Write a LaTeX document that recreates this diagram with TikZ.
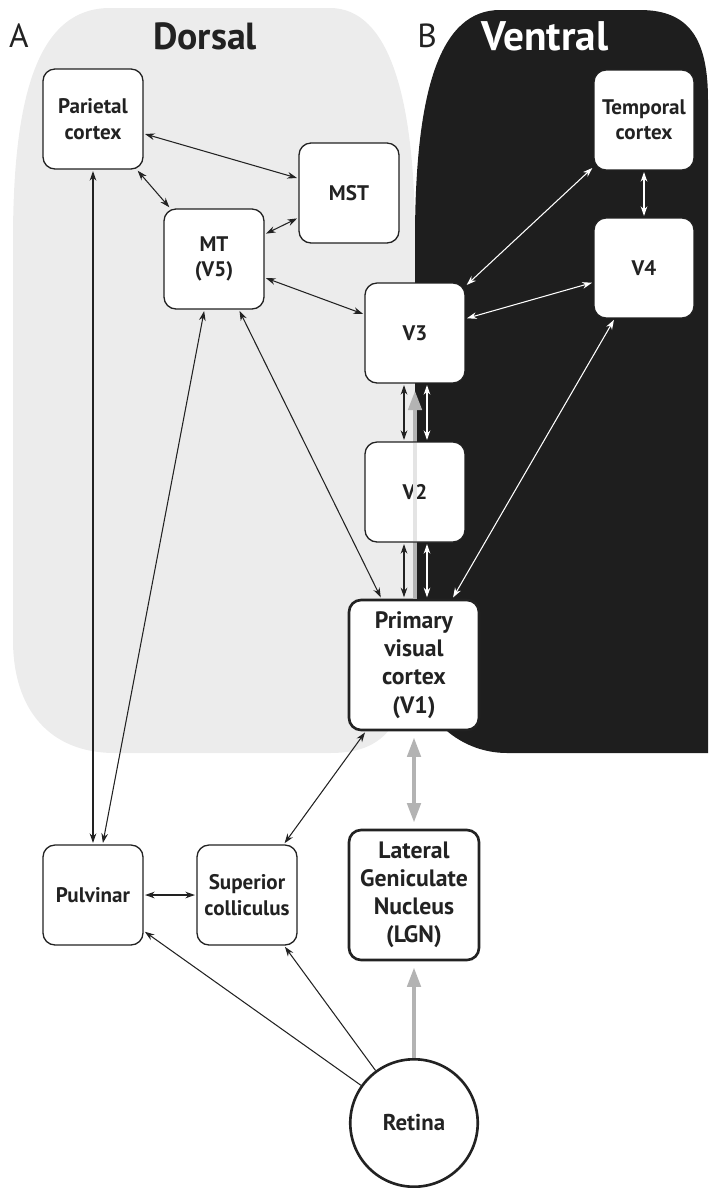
\documentclass[tikz,border=0pt]{standalone}
\usepackage{fontspec}
\setmainfont{PT Sans}
\usetikzlibrary{arrows.meta}
\definecolor{dorsalgray}{HTML}{ECECEC}
\definecolor{ventralblack}{HTML}{1E1E1E}
\definecolor{pathgray}{HTML}{B3B3B3}
\definecolor{inkgray}{HTML}{222222}

\begin{document}
\begin{tikzpicture}[
    x=0.02cm, y=-0.02cm,
    area/.style={rectangle, draw=inkgray, fill=white, rounded corners=0.24cm, text=inkgray, align=center, minimum width=2cm, minimum height=2cm, inner sep=1pt, line width=0.75pt, font=\fontsize{12}{14.5}\selectfont\bfseries},
    mainarea/.style={area, line width=1.5pt, minimum width=2.6cm, minimum height=2.6cm, font=\fontsize{13.5}{16}\selectfont\bfseries},
    eye/.style={circle, draw=inkgray, fill=white, line width=1.5pt, minimum size=2.55cm, text=inkgray, font=\fontsize{13}{15}\selectfont\bfseries},
    title/.style={font=\fontsize{21.5}{24}\selectfont\bfseries},
    panel/.style={font=\fontsize{19}{21}\selectfont, text=inkgray},
    link/.style={{Stealth[length=5.5pt,width=3.8pt]}-{Stealth[length=5.5pt,width=3.8pt]}, line width=0.6pt, draw=inkgray, shorten >=0.8pt, shorten <=0.8pt},
    wlink/.style={link, draw=white},
    feed/.style={-{Stealth[length=5.5pt,width=3.8pt]}, line width=0.6pt, draw=inkgray, shorten >=0.8pt},
    gpath/.style={-{Triangle[length=11pt,width=7.5pt]}, line width=2.2pt, draw=pathgray},
    gpathboth/.style={{Triangle[length=11pt,width=7.5pt]}-{Triangle[length=11pt,width=7.5pt]}, line width=2.2pt, draw=pathgray}
]
\useasboundingbox (0,0) rectangle (708,1188);

% Backgrounds: dorsal and ventral streams
\fill[dorsalgray] (13,240) .. controls (13,90) and (40,8) .. (110,8) -- (330,8) .. controls (390,8) and (415,100) .. (415,240) -- (415,600) .. controls (415,720) and (390,753) .. (330,753) -- (115,753) .. controls (50,753) and (13,710) .. (13,640) -- cycle;
\fill[ventralblack] (415,240) .. controls (415,90) and (440,10) .. (500,10) -- (640,10) .. controls (690,10) and (708,40) .. (708,100) -- (708,753) -- (507,753) .. controls (457,753) and (415,713) .. (415,663) -- cycle;

% Labels
\node[panel] (labA) at (19,36) {A};
\node[title, text=inkgray] (dorsal) at (205,36) {Dorsal};
\node[panel] (labB) at (427,36) {B};
\node[title, text=white, font=\fontsize{23.5}{26}\selectfont\bfseries] (ventral) at (545,36) {Ventral};

% Cortical areas
\node[area] (par) at (93,119) {Parietal\\cortex};
\node[area] (mst) at (349,193) {MST};
\node[area] (mt) at (214,259) {MT\\(V5)};
\node[area] (v3) at (415,333) {V3};
\node[mainarea] (v1) at (414,665) {Primary\\visual\\cortex\\(V1)};
\node[area] (temp) at (644,120) {Temporal\\cortex};
\node[area] (v4) at (644,268) {V4};

% Subcortical
\node[area] (pulv) at (93,895) {Pulvinar};
\node[area] (sc) at (247,895) {Superior\\colliculus};
\node[mainarea] (lgn) at (414,895) {Lateral\\Geniculate\\Nucleus\\(LGN)};
\node[eye] (retina) at (414,1123) {Retina};

% Main pathway (gray)
\draw[gpath, shorten >=4pt] (v1.north -| v3.south) -- (v3.south);
\node[area] (v2) at (415,492) {V2};
\draw[pathgray!35, line width=2.2pt, shorten >=0.8pt, shorten <=0.8pt] (v2.north) -- (v2.south);
\draw[gpathboth, shorten >=3.5pt, shorten <=3.5pt] (lgn) -- (v1);
\draw[gpath, shorten >=3.5pt] (retina) -- (lgn);

% Dorsal links
\draw[link] (par) -- (mst);
\draw[link] (par) -- (mt);
\draw[link] (mst) -- (mt);
\draw[link] (mt) -- (v3);
\draw[link] (par) -- (pulv);
\draw[link] (mt) -- (pulv);
\draw[link] (mt) -- (v1);
\draw[link] ([xshift=-0.22cm]v3.south) -- ([xshift=-0.22cm]v2.north);
\draw[link] ([xshift=-0.22cm]v2.south) -- ([xshift=-0.22cm]v2.south |- v1.north);

% Ventral links
\draw[wlink] ([xshift=0.24cm]v3.south) -- ([xshift=0.24cm]v2.north);
\draw[wlink] ([xshift=0.24cm]v2.south) -- ([xshift=0.24cm]v2.south |- v1.north);
\draw[wlink] (v3) -- (temp);
\draw[wlink] (v3) -- (v4);
\draw[wlink] (temp) -- (v4);
\draw[wlink] (v1) -- (v4);

% Subcortical links
\draw[link] (v1) -- (sc);
\draw[link] (pulv) -- (sc);
\draw[feed] (retina) -- (pulv);
\draw[feed] (retina) -- (sc);

\end{tikzpicture}
\end{document}
